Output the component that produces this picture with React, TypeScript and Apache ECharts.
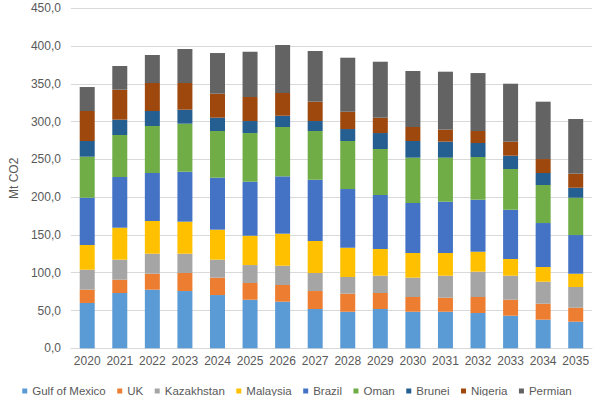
import React, { useEffect, useRef } from "react";
import * as echarts from "echarts";

const years = ["2020","2021","2022","2023","2024","2025","2026","2027","2028","2029","2030","2031","2032","2033","2034","2035"];
const seriesNames = ["Gulf of Mexico","UK","Kazakhstan","Malaysia","Brazil","Oman","Brunei","Nigeria","Permian"];
const colors = ["#5B9BD5","#ED7D31","#A5A5A5","#FFC000","#4472C4","#70AD47","#255E91","#9E480E","#636363"];

const gulfOfMexico = [60.0,73.2,77.6,75.8,70.5,64.3,61.7,52.0,48.4,52.0,48.4,48.4,46.7,43.1,37.9,35.2];
const uk = [17.6,17.6,21.1,23.9,23.0,22.1,22.1,23.8,23.9,21.2,19.5,18.6,21.2,21.2,21.1,18.5];
const kazakhstan = [26.4,26.5,26.5,25.5,23.8,23.8,25.5,23.9,22.1,22.9,25.6,29.1,33.5,31.8,29.1,27.4];
const malaysia = [32.7,42.3,43.3,42.4,39.7,38.8,42.4,42.3,38.7,35.3,32.6,30.0,26.4,22.1,19.5,17.6];
const brazil = [62.6,67.1,63.5,66.1,68.8,71.5,75.9,81.1,77.7,71.5,66.2,67.9,68.9,65.2,58.2,51.2];
const oman = [54.3,55.6,62.2,63.6,61.8,64.4,65.3,64.5,63.6,60.9,60.0,58.3,56.5,53.9,50.3,49.4];
const brunei = [20.8,20.3,19.9,18.5,17.6,15.9,14.9,13.2,15.8,21.1,22.1,21.2,18.5,17.6,15.9,13.2];
const nigeria = [39.7,39.7,37.0,35.3,31.8,31.8,30.1,25.6,22.9,20.3,18.5,15.9,15.9,18.6,18.5,18.6];
const permian = [31.7,31.3,37.1,45.0,53.8,59.9,63.5,67.1,71.5,74.1,74.1,76.7,76.7,76.7,75.9,72.4];

const allData = [gulfOfMexico, uk, kazakhstan, malaysia, brazil, oman, brunei, nigeria, permian];

export default function App() {
  const ref = useRef<HTMLDivElement>(null);
  useEffect(() => {
    if (!ref.current) return;
    const chart = echarts.init(ref.current, null, { renderer: "svg" });
    const labelColor = "#595959";
    chart.setOption({
      animation: false,
      backgroundColor: "#ffffff",
      textStyle: { fontFamily: "Liberation Sans, Arial, sans-serif" },
      grid: { left: 59, right: 2, top: 8.3, bottom: 47.7, containLabel: false },
      legend: {
        data: seriesNames,
        left: "center",
        top: 380,
        icon: "rect",
        itemWidth: 5,
        itemHeight: 5,
        itemGap: 11.5,
        textStyle: { color: labelColor, fontSize: 11.5 },
      },
      xAxis: {
        type: "category",
        data: years,
        axisTick: { show: false },
        axisLine: { show: true, lineStyle: { color: "#D9D9D9" } },
        axisLabel: { color: labelColor, fontSize: 12, margin: 7, interval: 0 },
      },
      yAxis: {
        type: "value",
        min: 0,
        max: 450,
        interval: 50,
        name: "Mt CO2",
        nameLocation: "middle",
        nameGap: 45,
        nameTextStyle: { color: labelColor, fontSize: 12 },
        axisLine: { show: false },
        axisTick: { show: false },
        splitLine: { lineStyle: { color: "#D9D9D9", width: 1 } },
        axisLabel: {
          color: labelColor,
          fontSize: 12,
          margin: 10,
          formatter: (v: number) => v.toFixed(1).replace(".", ","),
        },
      },
      series: seriesNames.map((name, i) => ({
        name,
        type: "bar",
        stack: "total",
        barWidth: 15,
        data: allData[i],
        itemStyle: { color: colors[i] },
      })),
    });
    return () => chart.dispose();
  }, []);
  return (
    <div
      ref={ref}
      style={{ position: "fixed", left: 0, top: 0, width: 594, height: 396 }}
    />
  );
}
